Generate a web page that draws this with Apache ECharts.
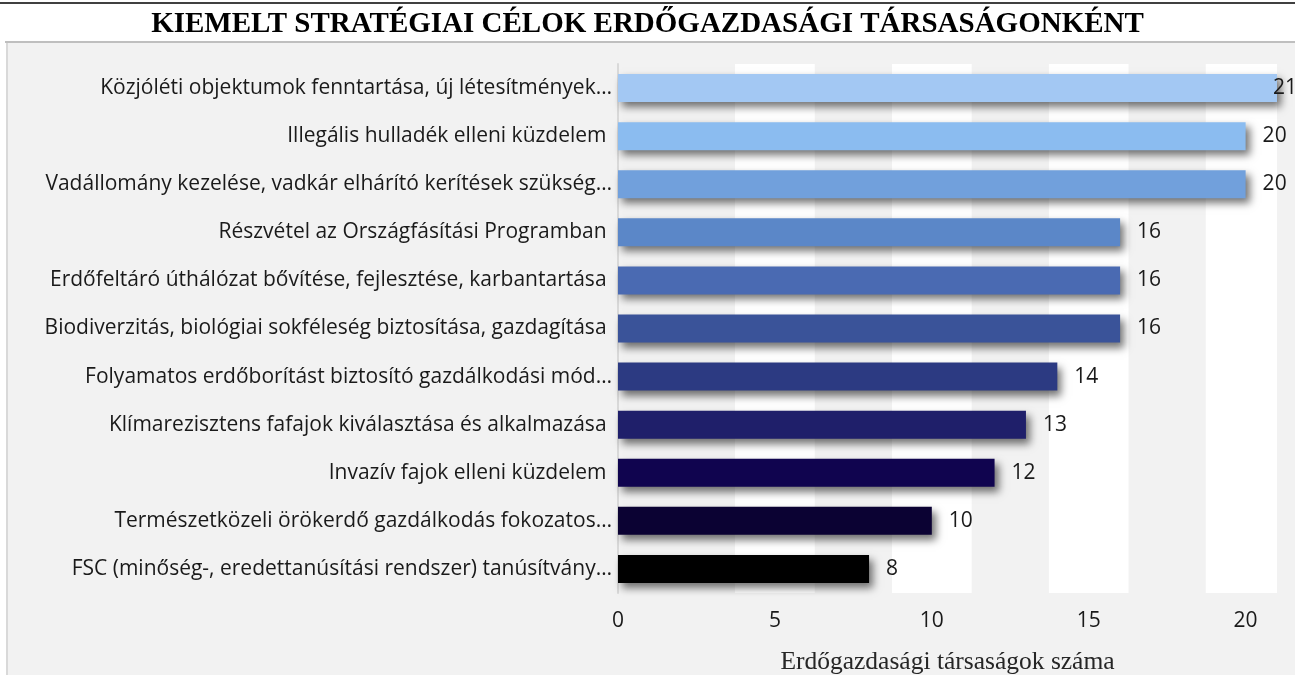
<!DOCTYPE html>
<html>
<head>
    <meta charset="utf-8"/>
    <script src="https://cdn.jsdelivr.net/npm/echarts@6/dist/echarts.min.js"></script>
    <style>
        html, body { margin: 0; padding: 0; background: #fff; }
        #container { width: 1295px; height: 675px; }
    </style>
</head>
<body>
<div id="container"></div>
<script type="text/javascript">
    var categories = [
        'Közjóléti objektumok fenntartása, új létesítmények…',
        'Illegális hulladék elleni küzdelem ',
        'Vadállomány kezelése, vadkár elhárító kerítések szükség…',
        'Részvétel az Országfásítási Programban ',
        'Erdőfeltáró úthálózat bővítése, fejlesztése, karbantartása ',
        'Biodiverzitás, biológiai sokféleség biztosítása, gazdagítása ',
        'Folyamatos erdőborítást biztosító gazdálkodási mód…',
        'Klímarezisztens fafajok kiválasztása és alkalmazása ',
        'Invazív fajok elleni küzdelem ',
        'Természetközeli örökerdő gazdálkodás fokozatos…',
        'FSC (minőség-, eredettanúsítási rendszer) tanúsítvány…'
    ];
    var counts = [21, 20, 20, 16, 16, 16, 14, 13, 12, 10, 8];
    var barColors = ['#a3c8f3', '#8bbcf0', '#71a0dc', '#5b87c8', '#4a6ab2', '#3a5399',
        '#2c3a82', '#1f1f6a', '#10044f', '#0b0233', '#000000'];
    var bandTicks = [5, 10, 15, 20];

    var maxCount = Math.max.apply(null, counts);
    var barData = counts.map(function (v, i) {
        var item = {value: v, itemStyle: {color: barColors[i]}};
        if (v === maxCount) {
            item.label = {distance: -4};
        }
        return item;
    });
    var bands = bandTicks.map(function (t) {
        return [{xAxis: t - 1.27}, {xAxis: t + 1.27}];
    });

    var myChart = echarts.init(document.getElementById('container'));
    var option = {
        backgroundColor: '#ffffff',
        animation: false,
        title: {
            text: 'KIEMELT STRATÉGIAI CÉLOK ERDŐGAZDASÁGI TÁRSASÁGONKÉNT',
            left: 'center',
            top: 5,
            textStyle: {
                fontFamily: 'Liberation Serif',
                fontWeight: 'bold',
                fontSize: 29,
                color: '#000'
            }
        },
        graphic: [
            {type: 'rect', z: -10, shape: {x: 6, y: 42, width: 1295, height: 640}, style: {fill: '#f2f2f2'}},
            {type: 'line', z: -9, shape: {x1: 0, y1: 3, x2: 1295, y2: 3}, style: {stroke: '#404040', lineWidth: 2}},
            {type: 'line', z: -9, shape: {x1: 5, y1: 42, x2: 1295, y2: 42}, style: {stroke: '#bfbfbf', lineWidth: 2}},
            {type: 'line', z: -9, shape: {x1: 7, y1: 43, x2: 7, y2: 675}, style: {stroke: '#d9d9d9', lineWidth: 2}}
        ],
        grid: {left: 618, right: 18, top: 64, bottom: 82, outerBoundsMode: 'none'},
        xAxis: {
            type: 'value',
            min: 0,
            max: 21,
            interval: 5,
            name: 'Erdőgazdasági társaságok száma',
            nameLocation: 'middle',
            nameGap: 56,
            nameTextStyle: {fontFamily: 'Liberation Serif', fontSize: 25.5, color: '#262626'},
            axisLine: {show: false},
            axisTick: {show: false},
            splitLine: {show: false},
            axisLabel: {
                showMaxLabel: false,
                margin: 18,
                fontFamily: 'Open Sans',
                fontSize: 21,
                color: '#1a1a1a'
            }
        },
        yAxis: {
            type: 'category',
            inverse: true,
            data: categories,
            axisLine: {show: true, lineStyle: {color: '#d9d9d9', width: 2}},
            axisTick: {show: false},
            axisLabel: {
                margin: 6,
                fontFamily: 'Open Sans',
                fontSize: 21,
                color: '#1a1a1a'
            }
        },
        series: [
            {
                type: 'bar',
                data: barData,
                barWidth: 28,
                itemStyle: {
                    shadowColor: 'rgba(0,0,0,0.55)',
                    shadowBlur: 8,
                    shadowOffsetX: 4,
                    shadowOffsetY: 5
                },
                label: {
                    show: true,
                    position: 'right',
                    distance: 17,
                    fontFamily: 'Open Sans',
                    fontSize: 21,
                    color: '#1a1a1a'
                },
                markArea: {
                    silent: true,
                    itemStyle: {color: '#ffffff'},
                    data: bands
                }
            }
        ]
    };
    myChart.setOption(option, true);
</script>
</body>
</html>
